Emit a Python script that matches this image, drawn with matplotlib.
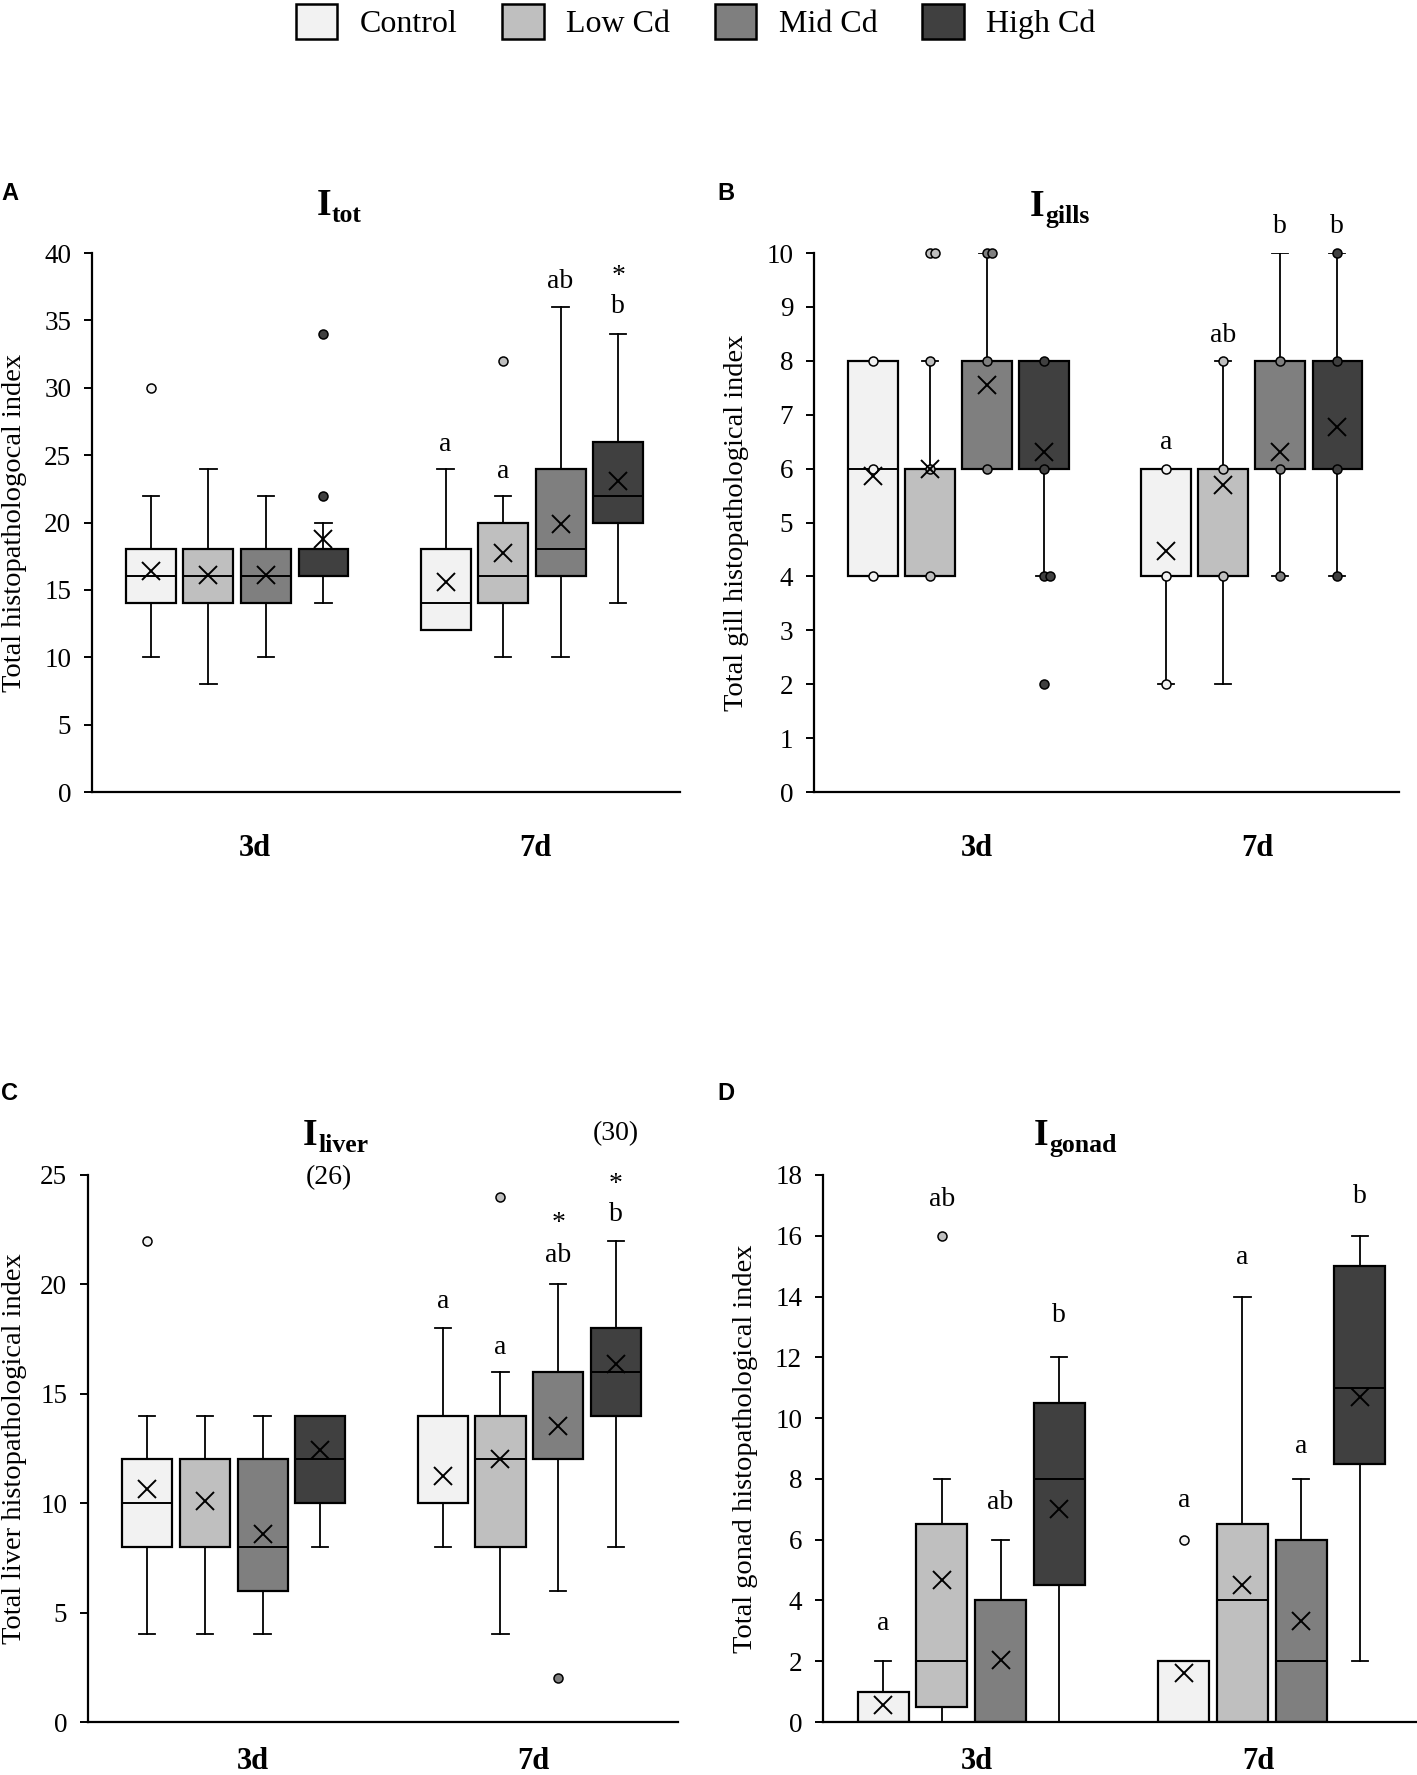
import matplotlib
matplotlib.use('Agg')
import matplotlib.pyplot as plt
from matplotlib.patches import Patch
from matplotlib.ticker import MultipleLocator

plt.rcParams['font.family'] = ['Liberation Serif', 'DejaVu Serif']

# ---------------- data ----------------
groups = ['Control', 'Low Cd', 'Mid Cd', 'High Cd']
colors = ['#f2f2f2', '#bfbfbf', '#7f7f7f', '#404040']
days = ['3d', '7d']
# every list below: 3d Control, Low, Mid, High, 7d Control, Low, Mid, High

# A: I_tot
tot_q1 = [14, 14, 14, 16, 12, 14, 16, 20]
tot_med = [16, 16, 16, 16, 14, 16, 18, 22]
tot_q3 = [18, 18, 18, 18, 18, 20, 24, 26]
tot_lo = [10, 8, 10, 14, 12, 10, 10, 14]
tot_hi = [22, 24, 22, 20, 24, 22, 36, 34]
tot_mean = [16.4, 16.1, 16.1, 18.8, 15.6, 17.7, 19.9, 23.1]
tot_out = [[30], [], [], [22, 34], [], [32], [], []]
tot_inner = [[], [], [], [], [], [], [], []]
tot_notes = [(4, 'a', 25.8), (5, 'a', 23.8), (6, 'ab', 37.9), (7, 'b', 36.0), (7, '*', 38.8)]

# B: I_gills
gill_q1 = [4, 4, 6, 6, 4, 4, 6, 6]
gill_med = [6, 6, 8, 6, 4, 6, 6, 6]
gill_q3 = [8, 6, 8, 8, 6, 6, 8, 8]
gill_lo = [4, 4, 6, 4, 2, 2, 4, 4]
gill_hi = [8, 8, 10, 8, 6, 8, 10, 10]
gill_mean = [5.87, 6.0, 7.55, 6.3, 4.47, 5.7, 6.3, 6.77]
gill_out = [[], [10, 10], [], [2], [], [], [], []]
gill_inner = [[4, 6, 8], [4, 6, 8], [6, 8, 10, 10], [4, 4, 6, 8],
              [2, 4, 6], [4, 6, 8], [4, 6, 8], [4, 6, 8, 10]]
gill_notes = [(4, 'a', 6.49), (5, 'ab', 8.47), (6, 'b', 10.5), (7, 'b', 10.5)]

# C: I_liver
liv_q1 = [8, 8, 6, 10, 10, 8, 12, 14]
liv_med = [10, 12, 8, 12, 10, 12, 12, 16]
liv_q3 = [12, 12, 12, 14, 14, 14, 16, 18]
liv_lo = [4, 4, 4, 8, 8, 4, 6, 8]
liv_hi = [14, 14, 14, 14, 18, 16, 20, 22]
liv_mean = [10.65, 10.12, 8.6, 12.45, 11.25, 12.0, 13.55, 16.35]
liv_out = [[22], [], [], [], [], [24], [2], []]
liv_inner = [[], [], [], [], [], [], [], []]
liv_notes = [(3, '(26)', 24.9), (4, 'a', 19.2), (5, 'a', 17.1), (6, 'ab', 21.3),
             (6, '*', 23.1), (7, 'b', 23.2), (7, '*', 24.9), (7, '(30)', 26.9)]

# D: I_gonad
gon_q1 = [0, 0.5, 0, 4.5, 0, 0, 0, 8.5]
gon_med = [0, 2, 0, 8, 2, 4, 2, 11]
gon_q3 = [1, 6.5, 4, 10.5, 2, 6.5, 6, 15]
gon_lo = [0, 0, 0, 0, 0, 0, 0, 2]
gon_hi = [2, 8, 6, 12, 2, 14, 8, 16]
gon_mean = [0.56, 4.66, 2.04, 7.0, 1.6, 4.52, 3.33, 10.7]
gon_out = [[], [16], [], [], [6], [], [], []]
gon_inner = [[], [], [], [], [], [], [], []]
gon_notes = [(0, 'a', 3.23), (1, 'ab', 17.2), (2, 'ab', 7.22), (3, 'b', 13.37),
             (4, 'a', 7.3), (5, 'a', 15.3), (6, 'a', 9.07), (7, 'b', 17.3)]

panels = [
    dict(letter='A', main='I', sub='tot', ylabel='Total histopathologocal index',
         ymax=40, step=5, q1=tot_q1, med=tot_med, q3=tot_q3, lo=tot_lo, hi=tot_hi,
         mean=tot_mean, out=tot_out, inner=tot_inner, notes=tot_notes),
    dict(letter='B', main='I', sub='gills', ylabel='Total gill histopathological index',
         ymax=10, step=1, q1=gill_q1, med=gill_med, q3=gill_q3, lo=gill_lo, hi=gill_hi,
         mean=gill_mean, out=gill_out, inner=gill_inner, notes=gill_notes),
    dict(letter='C', main='I', sub='liver', ylabel='Total liver histopathological index',
         ymax=25, step=5, q1=liv_q1, med=liv_med, q3=liv_q3, lo=liv_lo, hi=liv_hi,
         mean=liv_mean, out=liv_out, inner=liv_inner, notes=liv_notes),
    dict(letter='D', main='I', sub='gonad', ylabel='Total gonad histopathological index',
         ymax=18, step=2, q1=gon_q1, med=gon_med, q3=gon_q3, lo=gon_lo, hi=gon_hi,
         mean=gon_mean, out=gon_out, inner=gon_inner, notes=gon_notes),
]

# ---------------- layout (pixels of a 1417 x 1775 canvas) ----------------
W, H = 1417, 1775
rects_px = [  # left, top, right, bottom
    (92, 253, 680, 792),
    (814, 253, 1399, 792),
    (88, 1175, 678, 1722),
    (823, 1175, 1423, 1722),
]
ylabel_x_px = [27, 749, 27, 758]
letter_px = [(1, 200), (717, 200), (1, 1100), (717, 1100)]
title_gap_px = [38, 37, 30, 30]
xtick_pos = [(0.554, 1.507), (0.557, 1.515), (0.56, 1.51), (0.513, 1.45)]
xtick_pad = [30, 30, 18, 18]

fig = plt.figure(figsize=(W / 100, H / 100), dpi=100)

centers = [0.494, 1.496]
spacing = 0.1956
box_w = 0.17
positions = [c + (k - 1.5) * spacing for c in centers for k in range(4)]
box_colors = colors * 2

title_pairs = []
for p, (l, t, r, b), ylx, lp, tg, xt, xpad in zip(panels, rects_px, ylabel_x_px, letter_px,
                                                  title_gap_px, xtick_pos, xtick_pad):
    ax = fig.add_axes([l / W, 1 - b / H, (r - l) / W, (b - t) / H])
    stats = []
    for i in range(8):
        stats.append(dict(med=p['med'][i], q1=p['q1'][i], q3=p['q3'][i],
                          whislo=p['lo'][i], whishi=p['hi'][i], mean=p['mean'][i],
                          fliers=[]))
    bp = ax.bxp(stats, positions=positions, widths=box_w, patch_artist=True,
                showmeans=True, showfliers=False, capwidths=0.055,
                boxprops=dict(linewidth=1.6, edgecolor='black'),
                medianprops=dict(color='black', linewidth=1.4),
                whiskerprops=dict(color='black', linewidth=1.3),
                capprops=dict(color='black', linewidth=1.3),
                meanprops=dict(marker='x', markersize=13, markeredgecolor='black',
                               markeredgewidth=1.4, linestyle='none'))
    for patch, c in zip(bp['boxes'], box_colors):
        patch.set_facecolor(c)
    for m in bp['means']:
        m.set_zorder(5)
    # inner points and outliers
    for i in range(8):
        for vals in (p['inner'][i], p['out'][i]):
            seen = {}
            for v in vals:
                k = seen.get(v, 0)
                seen[v] = k + 1
                ax.plot(positions[i] + 0.018 * k, v, 'o', ms=6.5, mfc=box_colors[i],
                        mec='black', mew=1.1, zorder=4, clip_on=False)
    # letters / notes
    for i, txt, y in p['notes']:
        dy = -5 if txt == '*' else 0
        dx = 6 if txt == '(26)' else 0
        ax.annotate(txt, xy=(positions[i], y), xytext=(dx, dy), textcoords='offset points',
                    ha='center', va='center', fontsize=20, annotation_clip=False)

    ax.set_xlim(0, 2)
    ax.set_ylim(0, p['ymax'])
    ax.yaxis.set_major_locator(MultipleLocator(p['step']))
    ax.set_xticks(list(xt))
    ax.set_xticklabels(days, fontsize=22, fontweight='bold')
    ax.tick_params(axis='x', length=0, pad=xpad)
    ax.tick_params(axis='y', labelsize=19.5, length=6, width=1.4, pad=9, direction='out')
    for s in ('top', 'right'):
        ax.spines[s].set_visible(False)
    for s in ('left', 'bottom'):
        ax.spines[s].set_linewidth(1.6)
    ax.set_ylabel(p['ylabel'], fontsize=20.5)
    ax.yaxis.set_label_coords((ylx - l) / (r - l), 0.5)

    t1 = ax.annotate(p['main'], xy=(0.42, 1.0), xycoords='axes fraction',
                     xytext=(0, tg * 0.72), textcoords='offset points',
                     ha='left', va='baseline', fontsize=27, fontweight='bold')
    t2 = ax.annotate(p['sub'], xy=(1, 0), xycoords=t1, xytext=(0.5, 0.5),
                     textcoords='offset points', ha='left', va='baseline',
                     fontsize=18.5, fontweight='bold')
    title_pairs.append((ax, t1, t2, r - l))

    fig.text(lp[0] / W, 1 - lp[1] / H, p['letter'], fontsize=17, fontweight='bold',
             family=['Liberation Sans', 'DejaVu Sans'], ha='left', va='baseline')

handles = [Patch(facecolor=c, edgecolor='black', linewidth=1.8) for c in colors]
fig.legend(handles, groups, loc='center', bbox_to_anchor=(0.491, 0.988), ncol=4,
           frameon=False, fontsize=23, handlelength=1.3, handleheight=1.33,
           handletextpad=0.7, columnspacing=1.4, borderpad=0, borderaxespad=0)

# center each two-part title at 42% of its axes width
fig.canvas.draw()
for ax, t1, t2, wpx in title_pairs:
    b1 = t1.get_window_extent()
    b2 = t2.get_window_extent()
    total = b2.x1 - b1.x0
    t1.xy = (0.42 - (total / 2) / wpx, 1.0)

fig.savefig('out.png', dpi=100)
